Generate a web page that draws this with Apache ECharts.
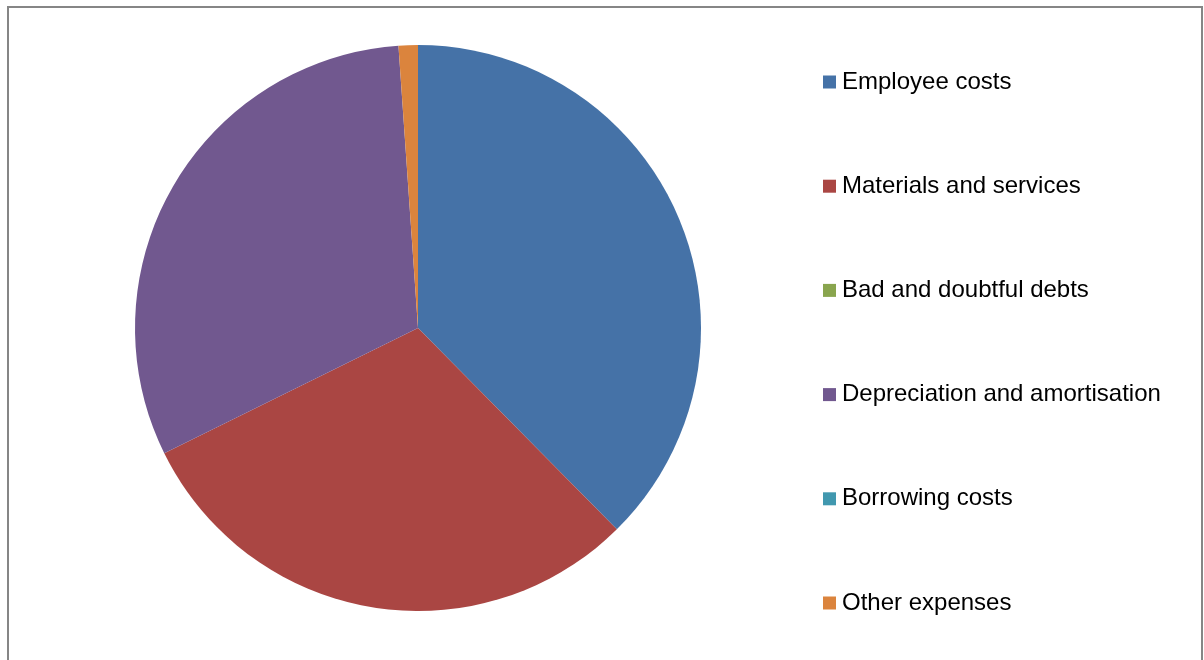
<!DOCTYPE html>
<html>
<head>
<meta charset="utf-8">
<script src="https://cdn.jsdelivr.net/npm/echarts@6/dist/echarts.min.js"></script>
<style>
  html, body { margin: 0; padding: 0; background: #ffffff; }
  #chart { width: 1204px; height: 660px; }
</style>
</head>
<body>
<div id="chart"></div>
<script>
// Expense categories and their shares of total expenses (%)
const categories = [
  'Employee costs',
  'Materials and services',
  'Bad and doubtful debts',
  'Depreciation and amortisation',
  'Borrowing costs',
  'Other expenses'
];
const shares = [37.6, 30.1, 0, 31.2, 0, 1.1];
const colors = ['#4572A7', '#AA4643', '#89A54E', '#71588F', '#4198AF', '#DB843D'];

const chart = echarts.init(document.getElementById('chart'), null, { renderer: 'canvas' });

chart.setOption({
  animation: false,
  color: colors,
  graphic: [{
    type: 'rect',
    shape: { x: 8, y: 7, width: 1194, height: 700 },
    style: { fill: 'none', stroke: '#868686', lineWidth: 2 },
    silent: true
  }],
  legend: {
    orient: 'vertical',
    left: 818,
    top: 65,
    padding: 5,
    itemWidth: 13,
    itemHeight: 13,
    itemGap: 80.2,
    icon: 'rect',
    selectedMode: false,
    textStyle: {
      fontFamily: '"Liberation Sans", Arial, sans-serif',
      fontSize: 24,
      lineHeight: 24,
      color: '#000000',
      padding: [0, 0, 0, 1]
    },
    data: categories
  },
  series: [{
    type: 'pie',
    center: [418, 328],
    radius: 283,
    startAngle: 90,
    clockwise: true,
    label: { show: false },
    labelLine: { show: false },
    emphasis: { disabled: true },
    itemStyle: { borderWidth: 0 },
    data: categories.map((name, i) => ({ name: name, value: shares[i] }))
  }]
});
</script>
</body>
</html>
